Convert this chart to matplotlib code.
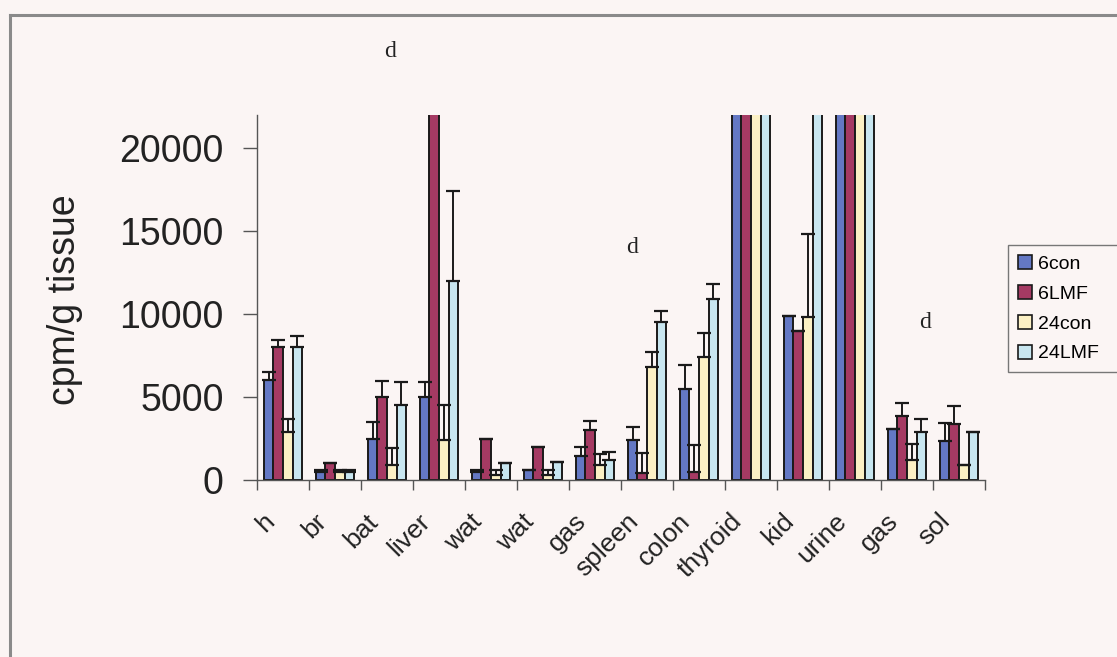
import numpy as np
import matplotlib
matplotlib.use('Agg')
import matplotlib.pyplot as plt
from matplotlib.patches import Patch
from matplotlib.lines import Line2D
from matplotlib.transforms import ScaledTranslation

plt.rcParams['font.family'] = ['Liberation Sans', 'DejaVu Sans']

# Data (cpm/g tissue); off-scale bars are given a value above the axis top
tissues = ['h', 'br', 'bat', 'liver', 'wat', 'wat', 'gas', 'spleen', 'colon',
           'thyroid', 'kid', 'urine', 'gas', 'sol']
series = ['6con', '6LMF', '24con', '24LMF']

con6 = [6000, 500, 2450, 5000, 500, 600, 1450, 2400, 5500, 35000, 9900, 35000, 3050, 2370]
con6_err = [500, 100, 1050, 900, 100, 0, 550, 800, 1450, 0, 0, 0, 0, 1080]

lmf6 = [8000, 1000, 5000, 35000, 2500, 2000, 3000, 400, 500, 35000, 9000, 35000, 3850, 3400]
lmf6_err = [450, 0, 950, 0, 0, 0, 550, 1200, 1600, 0, 0, 0, 800, 1050]

con24 = [2900, 500, 900, 2400, 300, 300, 900, 6800, 7400, 35000, 9850, 35000, 1200, 900]
con24_err = [750, 100, 1050, 2100, 300, 300, 650, 900, 1450, 0, 4950, 0, 1000, 0]

lmf24 = [8000, 500, 4500, 12000, 1000, 1100, 1200, 9500, 10900, 35000, 35000, 35000, 2900, 2900]
lmf24_err = [700, 100, 1400, 5400, 0, 0, 500, 700, 900, 0, 0, 0, 750, 0]

values = [con6, lmf6, con24, lmf24]
errors = [con6_err, lmf6_err, con24_err, lmf24_err]
colors = ['#6478c4', '#a53a63', '#fbf0c4', '#c8e6f0']

bg = '#fbf5f4'
fig = plt.figure(figsize=(11.17, 6.57), dpi=100, facecolor=bg)
ax = fig.add_axes([257 / 1117, 1 - 480 / 657, 728 / 1117, 365 / 657])
ax.set_facecolor('none')

x = np.arange(len(tissues))
w = 0.183
for i in range(4):
    pos = x + (i - 1.5) * w
    ax.bar(pos, values[i], width=w, color=colors[i], edgecolor='#1a1a1a',
           linewidth=1.4, zorder=2)
    ax.errorbar(pos, values[i], yerr=[np.zeros(len(x)), errors[i]], fmt='none',
                ecolor='#1a1a1a', elinewidth=1.4, capsize=5, capthick=1.6,
                zorder=3)

ax.set_xlim(-0.5, len(tissues) - 0.5)
ax.set_ylim(0, 22000)
ax.set_yticks([0, 5000, 10000, 15000, 20000])
ax.tick_params(axis='y', labelsize=27, length=10, width=1, color='#555555',
               pad=14, labelcolor='#222222')

ax.set_xticks(x)
ax.set_xticks(np.arange(len(tissues) + 1) - 0.5, minor=True)
ax.tick_params(axis='x', which='major', length=0, pad=21)
ax.tick_params(axis='x', which='minor', length=7, width=1, color='#555555')
ax.set_xticklabels(tissues, fontsize=19, rotation=45, ha='right', va='top',
                   rotation_mode='anchor', color='#222222')
shift = ScaledTranslation(-21 / 100, 0, fig.dpi_scale_trans)
for lab in ax.get_xticklabels():
    lab.set_transform(lab.get_transform() + shift)

for s in ['top', 'right']:
    ax.spines[s].set_visible(False)
for s in ['left', 'bottom']:
    ax.spines[s].set_color('#555555')
    ax.spines[s].set_linewidth(1)

ax.set_ylabel('cpm/g tissue', fontsize=27, color='#222222')
ax.yaxis.set_label_coords(-0.239, 0.493)

# significance markers
for tx, ty in [(2.06, 25800), (6.71, 14000), (12.35, 9500)]:
    ax.text(tx, ty, 'd', fontsize=17, family='Liberation Serif',
            ha='center', va='center', clip_on=False, color='#222222')

handles = [Patch(facecolor=c, edgecolor='#1a1a1a', linewidth=1.2) for c in colors]
fig.legend(handles, series, loc='upper left', mode='expand',
           bbox_to_anchor=(1008 / 1117, 1 - 365 / 657, 0.15, 120 / 657),
           fontsize=14, frameon=True, fancybox=False, edgecolor='#777777',
           facecolor=bg, framealpha=1, handlelength=0.75, handleheight=0.75,
           handletextpad=0.3, labelspacing=0.62, borderpad=0.5,
           borderaxespad=0)

# outer frame of the scanned page
fig.add_artist(Line2D([10 / 1117, 10 / 1117], [0, 1 - 15 / 657],
                      color='#8a8a8a', lw=2.2))
fig.add_artist(Line2D([10 / 1117, 1], [1 - 15 / 657, 1 - 15 / 657],
                      color='#8a8a8a', lw=2.2))

fig.savefig('out.png', dpi=100, facecolor=bg)
